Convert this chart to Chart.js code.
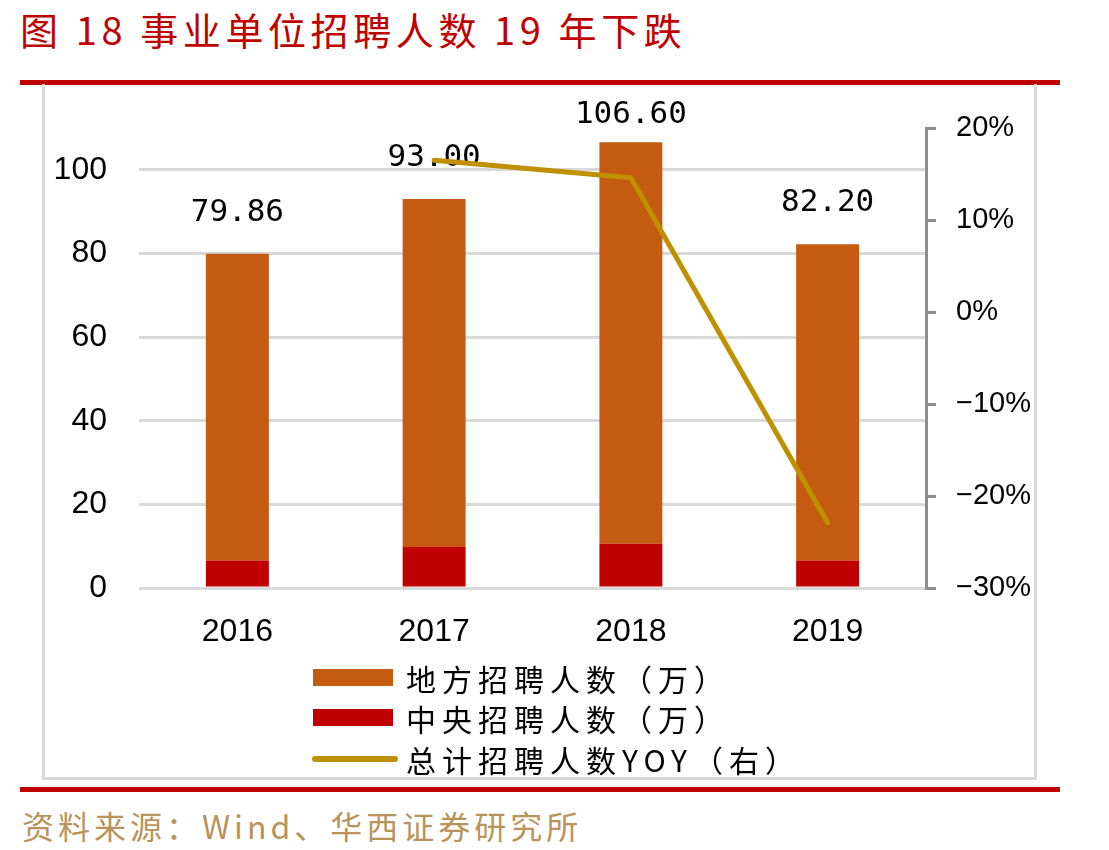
<!DOCTYPE html>
<html>
<head>
<meta charset="utf-8">
<script src="https://cdn.jsdelivr.net/npm/chart.js@4/dist/chart.umd.min.js"></script>
<style>
  body { margin: 0; width: 1109px; height: 850px; background: #fff; position: relative; overflow: hidden;
         font-family: "Noto Sans CJK SC", sans-serif; }
  .abs { position: absolute; }
  #title { left: 20px; top: 0; line-height: 58px; font-size: 38px; color: #C00000; letter-spacing: 4.6px; white-space: nowrap; }
  .rule { left: 20px; width: 1040px; height: 5px; background: #C00000; }
  #box { left: 42px; top: 84px; width: 995px; height: 696px; border: 3px solid #D9D9D9; border-top: none; box-sizing: border-box; }
  #wrap { left: 45px; top: 87px; width: 988px; height: 575px; }
  #wrap canvas { display: block; }
  .swatch { left: 313px; width: 80px; height: 17px; }
  .lgline { left: 312px; width: 86px; height: 6px; border-radius: 3px; }
  .lgtext { left: 406px; height: 40px; line-height: 40px; font-size: 30px; letter-spacing: 6px; color: #000; white-space: nowrap; }
  #source { left: 22px; top: 805px; line-height: 40px; font-size: 32px; letter-spacing: 4px; color: #B8935A; white-space: nowrap; }
</style>
</head>
<body>
<div id="title" class="abs">图 18 事业单位招聘人数 19 年下跌</div>
<div class="abs rule" style="top:80px"></div>
<div id="box" class="abs"></div>
<div id="wrap" class="abs"><canvas id="canvas1" width="988" height="575"></canvas></div>
<div id="legend"></div>
<div class="abs rule" style="top:787px"></div>
<div id="source" class="abs">资料来源：Wind、华西证券研究所</div>

<script>
const years = ["2016", "2017", "2018", "2019"];
const totalHires = [79.86, 93.00, 106.60, 82.20];
const centralHires = [6.6, 9.8, 10.6, 6.6];
const localHires = [73.3, 83.2, 96.0, 75.6];
const totalYoy = [null, 16.5, 14.6, -22.9];

const leftTicks = [0, 20, 40, 60, 80, 100];

const ORANGE = "#C55A11";
const RED = "#C00000";
const GOLD = "#BF9000";
const AXISFONT = "'Liberation Sans', Arial, sans-serif";

const ctx1 = document.getElementById("canvas1");

// total labels above each stacked bar (drawn before the line so the line sits on top)
const totalLabels = {
  id: "totalLabels",
  afterDatasetDraw(chart, args) {
    if (args.index !== 1) return;
    const ctx = chart.ctx;
    const y = chart.scales.y;
    const meta = chart.getDatasetMeta(1);
    ctx.save();
    ctx.font = "31px 'DejaVu Sans Mono', monospace";
    ctx.fillStyle = "#000";
    ctx.textAlign = "center";
    ctx.textBaseline = "middle";
    totalHires.forEach((v, i) => {
      const x = meta.data[i].x;
      let ty = y.getPixelForValue(v) - 41;
      ty = Math.max(ty, chart.chartArea.top - 13);
      ctx.fillText(v.toFixed(2), x, ty);
    });
    ctx.restore();
  }
};

createChart(ctx1);
createLegend();

function createChart(ctx) {
  return new Chart(ctx, {
    type: "bar",
    data: {
      labels: years,
      datasets: [
        {
          label: "中央招聘人数（万）",
          data: centralHires,
          backgroundColor: RED,
          stack: "hires",
          order: 1,
          barPercentage: 0.32,
          categoryPercentage: 1
        },
        {
          label: "地方招聘人数（万）",
          data: localHires,
          backgroundColor: ORANGE,
          stack: "hires",
          order: 2,
          barPercentage: 0.32,
          categoryPercentage: 1
        },
        {
          type: "line",
          label: "总计招聘人数YOY（右）",
          data: totalYoy,
          yAxisID: "y1",
          borderColor: GOLD,
          backgroundColor: GOLD,
          borderWidth: 5,
          borderCapStyle: "round",
          borderJoinStyle: "round",
          pointRadius: 0,
          tension: 0,
          order: 0
        }
      ]
    },
    options: {
      responsive: false,
      animation: false,
      layout: { padding: { top: 41, left: 0, right: 0, bottom: 0 } },
      plugins: {
        legend: { display: false },
        tooltip: { enabled: false }
      },
      scales: {
        x: {
          stacked: true,
          grid: { display: false },
          border: { display: false },
          ticks: { color: "#000", padding: 17, font: { family: AXISFONT, size: 32 } },
          afterFit: s => { s.height = 74; }
        },
        y: {
          stacked: true,
          position: "left",
          min: 0,
          max: 110,
          afterBuildTicks: s => { s.ticks = leftTicks.map(v => ({ value: v })); },
          grid: { color: "#D9D9D9", lineWidth: 3, drawTicks: false },
          border: { display: false },
          ticks: { color: "#000", padding: 32, font: { family: AXISFONT, size: 32 } },
          afterFit: s => { s.width = 94; s.paddingTop = 0; s.paddingBottom = 0; }
        },
        y1: {
          position: "right",
          min: -30,
          max: 20,
          grid: { drawOnChartArea: false, color: "#8C8C8C", lineWidth: 3, tickLength: 10 },
          border: { display: true, color: "#8C8C8C", width: 3 },
          ticks: {
            stepSize: 10,
            color: "#000",
            padding: 20,
            font: { family: AXISFONT, size: 29 },
            callback: v => (v < 0 ? "\u2212" : "") + Math.abs(v) + "%"
          },
          afterFit: s => { s.width = 107; s.paddingTop = 0; s.paddingBottom = 0; }
        }
      }
    },
    plugins: [totalLabels]
  });
}

function createLegend() {
  const legend = document.getElementById("legend");
  const items = [
    { text: "地方招聘人数（万）", color: ORANGE, kind: "box", center: 678 },
    { text: "中央招聘人数（万）", color: RED, kind: "box", center: 718 },
    { text: "总计招聘人数YOY（右）", color: GOLD, kind: "line", center: 759 }
  ];
  items.forEach(item => {
    const sw = document.createElement("div");
    if (item.kind === "box") {
      sw.className = "abs swatch";
      sw.style.top = (item.center - 9) + "px";
    } else {
      sw.className = "abs lgline";
      sw.style.top = (item.center - 3) + "px";
    }
    sw.style.background = item.color;
    legend.appendChild(sw);
    const tx = document.createElement("div");
    tx.className = "abs lgtext";
    tx.style.top = (item.center - 20) + "px";
    tx.textContent = item.text;
    legend.appendChild(tx);
  });
}
</script>
</body>
</html>
